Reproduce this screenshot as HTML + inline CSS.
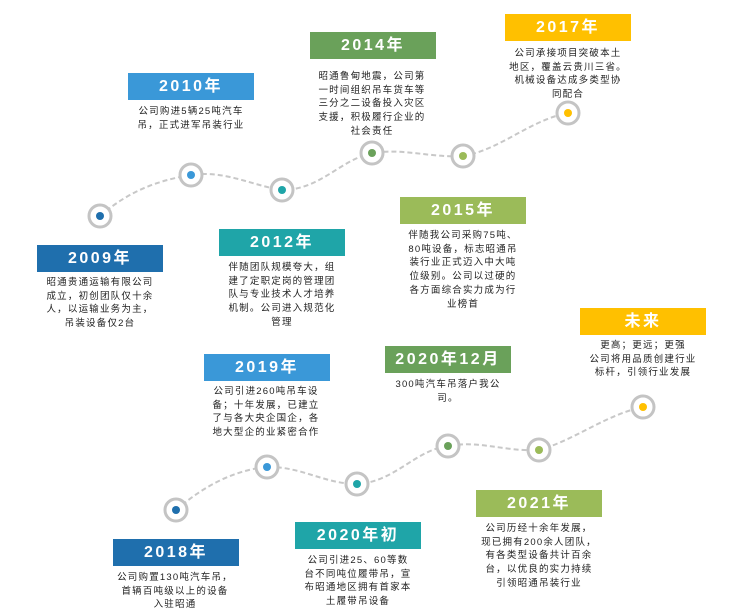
<!DOCTYPE html>
<html><head><meta charset="utf-8"><style>
body{margin:0;width:744px;height:616px;background:#fff;position:relative;overflow:hidden;font-family:"Liberation Sans","Noto Sans CJK SC",sans-serif}
.b{position:absolute;width:126px;height:27px;color:#fff;font-weight:bold;font-size:16px;letter-spacing:2.5px;text-align:center;line-height:27px}
.t{position:absolute;width:180px;font-size:9.5px;letter-spacing:1.2px;line-height:13.7px;text-align:center;color:#222;white-space:nowrap}
svg{position:absolute;left:0;top:0}
</style></head><body>
<svg width="744" height="616">
<g fill="none" stroke="#c8c8c8" stroke-width="2" stroke-dasharray="5,3">
<path d="M100,216 C130,190 160,180 191,175 C225,170 250,185 282,190 C320,190 340,160 372,153 C405,148 430,158 463,156 C500,150 530,120 568,113"/>
<path d="M176,510 C205,485 235,470 267,467 C300,466 325,484 357,484 C395,482 415,450 448,446 C480,440 505,452 539,450 C575,440 605,415 643,407"/>
</g>
<g fill="#fff" stroke="#c4c4c4" stroke-width="3">
<circle cx="100" cy="216" r="11"/><circle cx="191" cy="175" r="11"/><circle cx="282" cy="190" r="11"/><circle cx="372" cy="153" r="11"/><circle cx="463" cy="156" r="11"/><circle cx="568" cy="113" r="11"/>
<circle cx="176" cy="510" r="11"/><circle cx="267" cy="467" r="11"/><circle cx="357" cy="484" r="11"/><circle cx="448" cy="446" r="11"/><circle cx="539" cy="450" r="11"/><circle cx="643" cy="407" r="11"/>
</g>
<circle cx="100" cy="216" r="4" fill="#1f6fad"/><circle cx="191" cy="175" r="4" fill="#3a98d8"/><circle cx="282" cy="190" r="4" fill="#1fa5a8"/><circle cx="372" cy="153" r="4" fill="#6aa15a"/><circle cx="463" cy="156" r="4" fill="#9bbb59"/><circle cx="568" cy="113" r="4" fill="#ffc000"/>
<circle cx="176" cy="510" r="4" fill="#1f6fad"/><circle cx="267" cy="467" r="4" fill="#3a98d8"/><circle cx="357" cy="484" r="4" fill="#1fa5a8"/><circle cx="448" cy="446" r="4" fill="#6aa15a"/><circle cx="539" cy="450" r="4" fill="#9bbb59"/><circle cx="643" cy="407" r="4" fill="#ffc000"/>
</svg>

<div class="b" style="left:37px;top:245px;background:#1f6fad">2009年</div>
<div class="t" style="left:10px;top:276px">昭通贵通运输有限公司<br>成立，初创团队仅十余<br>人，以运输业务为主，<br>吊装设备仅2台</div>

<div class="b" style="left:128px;top:73px;background:#3a98d8">2010年</div>
<div class="t" style="left:101px;top:105px">公司购进5辆25吨汽车<br>吊，正式进军吊装行业</div>

<div class="b" style="left:219px;top:229px;background:#1fa5a8">2012年</div>
<div class="t" style="left:192px;top:261px">伴随团队规模夸大，组<br>建了定职定岗的管理团<br>队与专业技术人才培养<br>机制。公司进入规范化<br>管理</div>

<div class="b" style="left:310px;top:32px;background:#6aa15a">2014年</div>
<div class="t" style="left:282px;top:70px">昭通鲁甸地震，公司第<br>一时间组织吊车货车等<br>三分之二设备投入灾区<br>支援，积极履行企业的<br>社会责任</div>

<div class="b" style="left:400px;top:197px;background:#9bbb59">2015年</div>
<div class="t" style="left:373px;top:229px">伴随我公司采购75吨、<br>80吨设备，标志昭通吊<br>装行业正式迈入中大吨<br>位级别。公司以过硬的<br>各方面综合实力成为行<br>业榜首</div>

<div class="b" style="left:505px;top:14px;background:#ffc000">2017年</div>
<div class="t" style="left:478px;top:47px">公司承接项目突破本土<br>地区，覆盖云贵川三省。<br>机械设备达成多类型协<br>同配合</div>

<div class="b" style="left:204px;top:354px;background:#3a98d8">2019年</div>
<div class="t" style="left:176px;top:385px">公司引进260吨吊车设<br>备；十年发展，已建立<br>了与各大央企国企，各<br>地大型企的业紧密合作</div>

<div class="b" style="left:385px;top:346px;background:#6aa15a">2020年12月</div>
<div class="t" style="left:358px;top:378px">300吨汽车吊落户我公<br>司。</div>

<div class="b" style="left:580px;top:308px;background:#ffc000">未来</div>
<div class="t" style="left:553px;top:339px">更高；更远；更强<br>公司将用品质创建行业<br>标杆，引领行业发展</div>

<div class="b" style="left:113px;top:539px;background:#1f6fad">2018年</div>
<div class="t" style="left:85px;top:571px">公司购置130吨汽车吊，<br>首辆百吨级以上的设备<br>入驻昭通</div>

<div class="b" style="left:295px;top:522px;background:#1fa5a8">2020年初</div>
<div class="t" style="left:268px;top:554px">公司引进25、60等数<br>台不同吨位履带吊，宣<br>布昭通地区拥有首家本<br>土履带吊设备</div>

<div class="b" style="left:476px;top:490px;background:#9bbb59">2021年</div>
<div class="t" style="left:449px;top:522px">公司历经十余年发展，<br>现已拥有200余人团队，<br>有各类型设备共计百余<br>台，以优良的实力持续<br>引领昭通吊装行业</div>
</body></html>
